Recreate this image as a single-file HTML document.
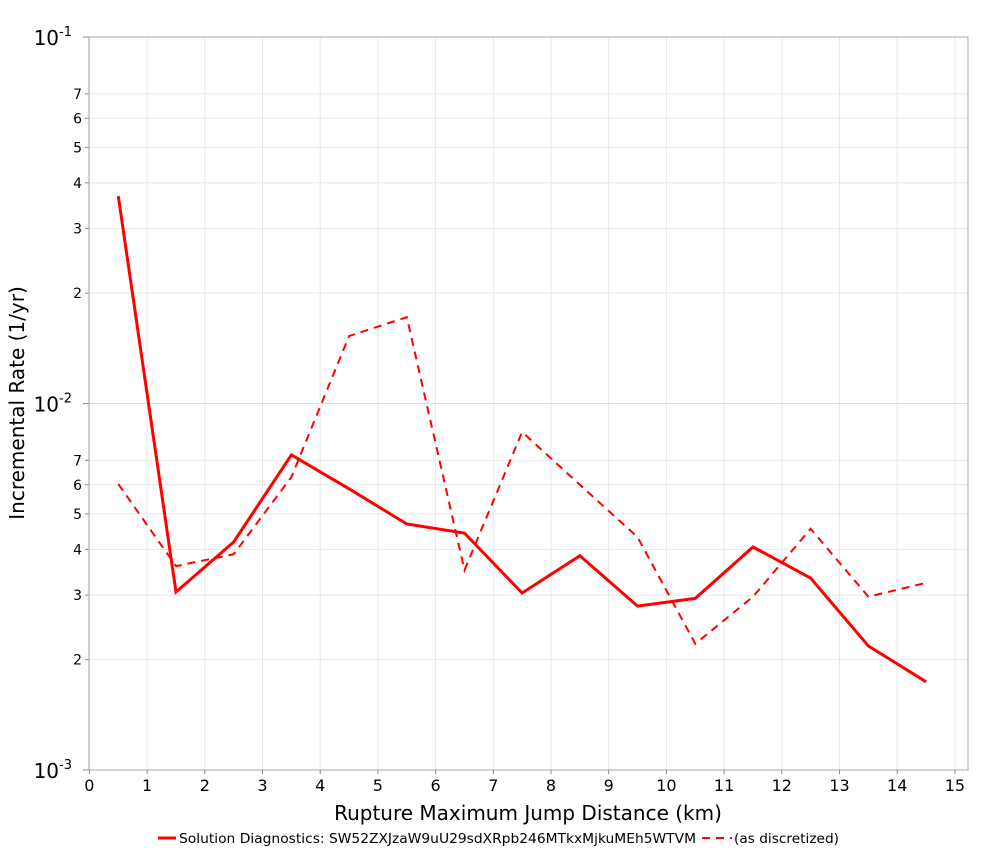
<!DOCTYPE html>
<html><head><meta charset="utf-8"><style>
body{margin:0;background:#fff;font-family:"Liberation Sans","DejaVu Sans",sans-serif}
svg text{font-family:"DejaVu Sans","Liberation Sans",sans-serif}
</style></head><body>
<svg id="chart" width="1000" height="850" xmlns="http://www.w3.org/2000/svg">
<rect x="0" y="0" width="1000" height="850" fill="#fff"/>
<g id="grid"></g>
<rect x="89" y="37" width="879" height="733" fill="none" stroke="#aaa" stroke-width="1"/>
<g id="axes"></g>
<g id="series"></g>
<text x="528" y="820" font-size="20" text-anchor="middle" fill="#000">Rupture Maximum Jump Distance (km)</text>
<text transform="translate(24,403) rotate(-90)" font-size="20" text-anchor="middle" fill="#000">Incremental Rate (1/yr)</text>
<g>
<line x1="158" y1="838" x2="176" y2="838" stroke="#f00" stroke-width="3"/>
<text x="179" y="843" font-size="13" textLength="517" lengthAdjust="spacingAndGlyphs">Solution Diagnostics: SW52ZXJzaW9uU29sdXRpb246MTkxMjkuMEh5WTVM</text>
<line x1="702" y1="838" x2="732" y2="838" stroke="#f00" stroke-width="2" stroke-dasharray="8,6"/>
<text x="734" y="843" font-size="13" textLength="105" lengthAdjust="spacingAndGlyphs">(as discretized)</text>
</g>
</svg>
<script>
const categories=[0.5,1.5,2.5,3.5,4.5,5.5,6.5,7.5,8.5,9.5,10.5,11.5,12.5,13.5,14.5];
const solutionRates=[0.0368,0.00306,0.00419,0.00724,0.00585,0.00469,0.00443,0.00304,0.00384,0.0028,0.00294,0.00406,0.00334,0.00218,0.00174];
const discretizedRates=[0.00603,0.0036,0.00388,0.0063,0.01528,0.0172,0.00351,0.00836,0.0060,0.00432,0.00221,0.00297,0.00455,0.00297,0.00324];
const xTicks=[0,1,2,3,4,5,6,7,8,9,10,11,12,13,14,15];
const yMinorTicks=[2,3,4,5,6,7];
const ns="http://www.w3.org/2000/svg";
const X0=89.4,XS=57.7,YT=37,YB=770;
function xs(v){return X0+v*XS;}
function ys(v){return YT+(-1-Math.log10(v))*(YB-YT)/2;}
function mk(tag,at,parent){const e=document.createElementNS(ns,tag);for(const k in at)e.setAttribute(k,at[k]);parent.appendChild(e);return e;}
const grid=document.getElementById('grid'),axes=document.getElementById('axes'),series=document.getElementById('series');
xTicks.forEach(t=>{
 const x=xs(t);
 const g=mk('line',{x1:x,x2:x,y1:YT,y2:YB,stroke:'#e8e8e8'},grid);
 
 
 mk('line',{x1:x,x2:x,y1:YB,y2:YB+4,stroke:'#888'},axes);
 const tx=mk('text',{x:x,y:YB+21,'font-size':16,'text-anchor':'middle'},axes);
 
 
 tx.textContent=t;
});
[-3,-2].forEach(d=>{yMinorTicks.forEach(m=>{
 const v=m*Math.pow(10,d),y=ys(v);
 const g=mk('line',{x1:89,x2:968,y1:y,y2:y,stroke:'#e8e8e8'},grid);
 
 
 mk('line',{x1:85,x2:89,y1:y,y2:y,stroke:'#888'},axes);
 const tx=mk('text',{x:82,y:y+5,'font-size':14,'text-anchor':'end'},axes);
 
 
 tx.textContent=m;
});});
[-3,-2,-1].forEach(d=>{
 const y=ys(Math.pow(10,d));
 const g=mk('line',{x1:89,x2:968,y1:y,y2:y,stroke:'#e0e0e0'},grid);
 
 
 mk('line',{x1:83,x2:89,y1:y,y2:y,stroke:'#888'},axes);
 const tx=mk('text',{x:72,y:y+8,'font-size':20,'text-anchor':'end'},axes);
 
 
 tx.textContent='10';
 const sp=mk('tspan',{dy:-9,'font-size':13},tx);sp.textContent=String(d);
});
function line(vals,dash,w,name){
 const pts=categories.map((c,i)=>xs(c).toFixed(1)+','+ys(vals[i]).toFixed(1)).join(' ');
 const p=mk('polyline',{points:pts,fill:'none',stroke:'#f00','stroke-width':w,'stroke-dasharray':dash||'none','stroke-linejoin':'miter'},series);
 
 
}
line(discretizedRates,'8,6',2,'discretized-line');
line(solutionRates,null,3,'solution-line');
</script>
</body></html>
